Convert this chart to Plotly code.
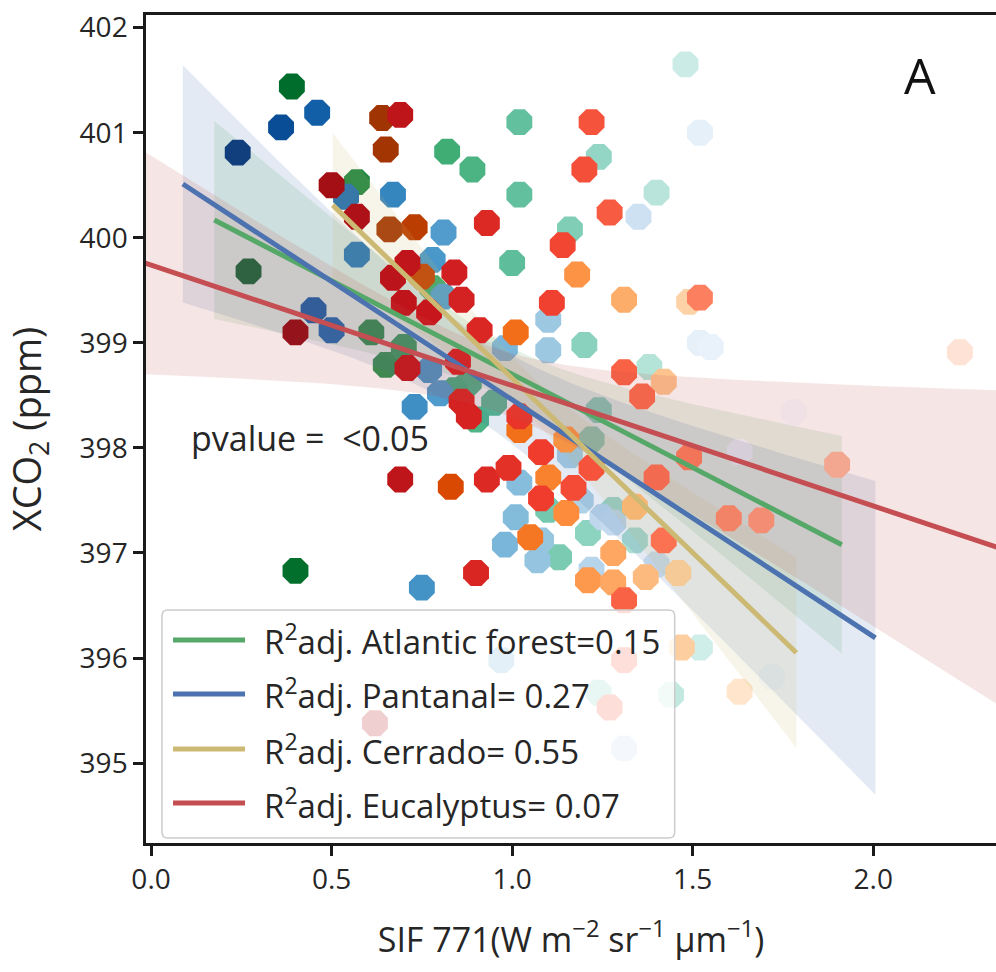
import numpy as np
import plotly.graph_objects as go

# ---- observations: SIF 771 (x) vs XCO2 (y) per biome ----
af_sif = [0.39, 0.27, 0.40, 0.57, 0.82, 0.89, 1.02, 1.02, 1.00, 1.24, 1.40, 1.48, 1.16, 1.20, 0.61,
          0.65, 0.70, 0.78, 0.95, 0.88, 1.38, 1.24, 1.22, 1.13, 1.21, 1.34, 1.28, 1.52, 1.44, 1.24,
          0.84, 0.90, 1.10]
af_xco2 = [401.44, 399.68, 396.83, 400.53, 400.82, 400.65, 401.10, 400.41, 399.76, 400.77, 400.43,
           401.65, 400.08, 398.98, 399.10, 398.79, 398.96, 399.52, 398.43, 398.62, 398.77, 398.36,
           398.08, 396.96, 397.19, 397.12, 397.41, 396.10, 395.65, 395.67, 398.55, 398.27, 397.41]

pa_sif = [0.24, 0.36, 0.46, 0.67, 0.54, 0.57, 0.45, 0.50, 0.81, 0.78, 0.81, 0.77, 0.80, 0.73, 0.75,
          0.98, 1.10, 1.10, 1.02, 1.01, 1.19, 1.25, 1.08, 1.07, 1.22, 1.28, 1.40, 1.35, 1.52, 1.52,
          1.55, 1.63, 1.78, 1.31, 1.72, 0.97, 0.98, 1.16]
pa_xco2 = [400.81, 401.05, 401.19, 400.41, 400.39, 399.84, 399.31, 399.12, 400.05, 399.79, 399.44,
           398.74, 398.52, 398.39, 396.67, 398.95, 399.22, 398.93, 397.67, 397.34, 397.50, 397.34,
           397.12, 396.93, 396.84, 397.29, 396.89, 400.20, 401.00, 399.00, 398.96, 397.96, 398.34,
           395.14, 395.82, 395.98, 397.08, 397.93]

ce_sif = [0.64, 0.65, 0.66, 0.73, 0.83, 1.01, 1.02, 1.10, 1.18, 1.31, 1.49, 1.15, 1.05, 1.28, 1.21,
          1.28, 1.34, 1.37, 1.46, 1.42, 1.47, 1.63, 0.75, 1.15]
ce_xco2 = [401.14, 400.84, 400.08, 400.10, 397.63, 399.10, 398.17, 397.72, 399.65, 399.41, 399.39,
           397.38, 397.15, 397.00, 396.74, 396.72, 397.44, 396.77, 396.81, 398.63, 396.10, 395.68,
           399.63, 398.08]

eu_sif = [0.69, 0.50, 0.57, 0.93, 1.22, 1.20, 1.27, 1.14, 0.71, 0.84, 0.67, 0.86, 0.70, 0.77, 1.11,
          0.91, 0.40, 0.71, 0.85, 0.86, 0.88, 1.02, 1.08, 0.69, 0.93, 0.99, 1.08, 1.17, 1.22, 0.90,
          1.31, 1.36, 1.49, 1.40, 1.42, 1.60, 1.69, 1.31, 1.90, 2.24, 1.52, 1.27, 1.31, 0.62]
eu_xco2 = [401.17, 400.50, 400.20, 400.14, 401.10, 400.65, 400.24, 399.93, 399.76, 399.67, 399.62,
           399.41, 399.38, 399.29, 399.38, 399.12, 399.10, 398.76, 398.82, 398.44, 398.30, 398.30,
           397.96, 397.70, 397.70, 397.81, 397.52, 397.62, 397.81, 396.81, 398.72, 398.49, 397.91,
           397.72, 397.12, 397.33, 397.31, 396.55, 397.84, 398.91, 399.43, 395.53, 395.98, 395.38]

# ---- linear fits and 95% confidence band parameters ----
biomes = ["Atlantic forest", "Pantanal", "Cerrado", "Eucalyptus"]
r2_text = ["=0.15", "= 0.27", "= 0.55", "= 0.07"]
fit_slope = [-1.778, -2.252, -3.318, -1.146]
fit_intercept = [400.48, 400.71, 401.98, 399.74]
fit_xmin = [0.175, 0.088, 0.503, -0.05]
fit_xmax = [1.913, 2.006, 1.787, 2.45]
ci_xcenter = [1.00, 0.90, 1.05, 0.95]
ci_halfwidth_min = [0.25, 0.40, 0.20, 0.30]
ci_growth = [1.10, 1.30, 1.20, 1.05]

# colour of each point follows its SIF value on a sequential map
seq_maps = [
    ['#f7fcfd', '#e5f5f9', '#ccece6', '#99d8c9', '#66c2a4', '#41ae76', '#238b45', '#006d2c', '#00441b'],
    ['#f7fbff', '#deebf7', '#c6dbef', '#9ecae1', '#6baed6', '#4292c6', '#2171b5', '#08519c', '#08306b'],
    ['#fff5eb', '#fee6ce', '#fdd0a2', '#fdae6b', '#fd8d3c', '#f16913', '#d94801', '#a63603', '#7f2704'],
    ['#fff5f0', '#fee0d2', '#fcbba1', '#fc9272', '#fb6a4a', '#ef3b2c', '#cb181d', '#a50f15', '#67000d'],
]
map_dark_at = [0.17, 0.20, 0.50, 0.22]
map_light_at = [1.92, 1.65, 1.80, 2.50]

line_rgb = [(85, 168, 104), (76, 114, 176), (204, 185, 116), (196, 78, 82)]

sif_sets = [af_sif, pa_sif, ce_sif, eu_sif]
xco2_sets = [af_xco2, pa_xco2, ce_xco2, eu_xco2]

FONT = "Open Sans"
TXT = "#262626"
AXIS = "#1a1a1a"

fig = go.Figure()

for i in range(4):
    cmap = seq_maps[i][::-1]
    cscale = [[k / (len(cmap) - 1), c] for k, c in enumerate(cmap)]
    fig.add_trace(go.Scatter(
        x=sif_sets[i], y=xco2_sets[i], mode="markers", showlegend=False,
        marker=dict(symbol="octagon", size=28, color=sif_sets[i], colorscale=cscale,
                    cmin=map_dark_at[i], cmax=map_light_at[i], showscale=False,
                    line=dict(width=0)),
        hoverinfo="skip"))
    # confidence band
    xs = np.linspace(fit_xmin[i], fit_xmax[i], 80)
    yfit = fit_intercept[i] + fit_slope[i] * xs
    hw = np.sqrt(ci_halfwidth_min[i] ** 2 + (ci_growth[i] * (xs - ci_xcenter[i])) ** 2)
    r, g, b = line_rgb[i]
    fig.add_trace(go.Scatter(
        x=np.concatenate([xs, xs[::-1]]),
        y=np.concatenate([yfit + hw, (yfit - hw)[::-1]]),
        fill="toself", fillcolor=f"rgba({r},{g},{b},0.15)", mode="lines",
        line=dict(width=0), showlegend=False, hoverinfo="skip"))

# regression lines drawn above all points
for i in range(4):
    xs = np.array([fit_xmin[i], fit_xmax[i]])
    r, g, b = line_rgb[i]
    fig.add_trace(go.Scatter(
        x=xs, y=fit_intercept[i] + fit_slope[i] * xs, mode="lines",
        line=dict(color=f"rgb({r},{g},{b})", width=5), showlegend=False,
        name=biomes[i]))

# ---- hand-drawn legend box ----
shapes = []
annotations = []
lx0, lx1, ly0, ly1 = 0.0188, 0.622, 0.006, 0.2814
rx, ry = 6 / 850, 6 / 828
box = (f"M {lx0+rx},{ly0} L {lx1-rx},{ly0} Q {lx1},{ly0} {lx1},{ly0+ry} "
       f"L {lx1},{ly1-ry} Q {lx1},{ly1} {lx1-rx},{ly1} L {lx0+rx},{ly1} "
       f"Q {lx0},{ly1} {lx0},{ly1-ry} L {lx0},{ly0+ry} Q {lx0},{ly0} {lx0+rx},{ly0} Z")
shapes.append(dict(type="path", path=box, xref="paper", yref="paper", layer="above",
                   fillcolor="rgba(255,255,255,0.8)", line=dict(color="#cccccc", width=1.5)))
row_y = [0.2452, 0.1800, 0.1135, 0.0483]
for i in range(4):
    r, g, b = line_rgb[i]
    shapes.append(dict(type="line", xref="paper", yref="paper", layer="above",
                       x0=0.0318, x1=0.1165, y0=row_y[i], y1=row_y[i],
                       line=dict(color=f"rgb({r},{g},{b})", width=5)))
    annotations.append(dict(
        text=f"R<sup>2</sup>adj. {biomes[i]}{r2_text[i]}", xref="paper", yref="paper",
        x=0.1365, y=row_y[i], xanchor="left", yanchor="middle", showarrow=False,
        font=dict(family=FONT, size=33, color=TXT)))

annotations.append(dict(text="pvalue =  <0.05", xref="paper", yref="paper", x=0.050, y=0.489,
                        xanchor="left", yanchor="middle", showarrow=False,
                        font=dict(family=FONT, size=34, color=TXT)))
annotations.append(dict(text="A", xref="paper", yref="paper", x=0.911, y=0.9275,
                        xanchor="center", yanchor="middle", showarrow=False,
                        font=dict(family=FONT, size=50, color="#111111")))

fig.update_layout(
    width=996, height=972,
    margin=dict(l=146, r=0, t=15, b=129),
    paper_bgcolor="white", plot_bgcolor="white",
    font=dict(family=FONT, color=TXT),
    shapes=shapes, annotations=annotations,
    xaxis=dict(range=[-0.014, 2.34], tickvals=[0.0, 0.5, 1.0, 1.5, 2.0],
               ticktext=["0.0", "0.5", "1.0", "1.5", "2.0"],
               showgrid=False, zeroline=False, showline=True, linecolor=AXIS,
               linewidth=2.5, mirror=True, ticks="outside", ticklen=10, tickwidth=2.5,
               tickcolor=AXIS, tickfont=dict(size=28, family=FONT, color=TXT),
               title=dict(text="SIF 771(W m<sup>\u22122</sup> sr<sup>\u22121</sup> \u03bcm<sup>\u22121</sup>)",
                          font=dict(size=34, family=FONT, color=TXT), standoff=32)),
    yaxis=dict(range=[394.24, 402.12], tickvals=[395, 396, 397, 398, 399, 400, 401, 402],
               showgrid=False, zeroline=False, showline=True, linecolor=AXIS,
               linewidth=2.5, ticks="outside", ticklen=10, tickwidth=2.5, tickcolor=AXIS,
               tickfont=dict(size=28, family=FONT, color=TXT),
               title=dict(text="XCO<sub>2</sub> (ppm)", font=dict(size=38, family=FONT, color=TXT),
                          standoff=34)),
)

fig.write_html("out.html")
